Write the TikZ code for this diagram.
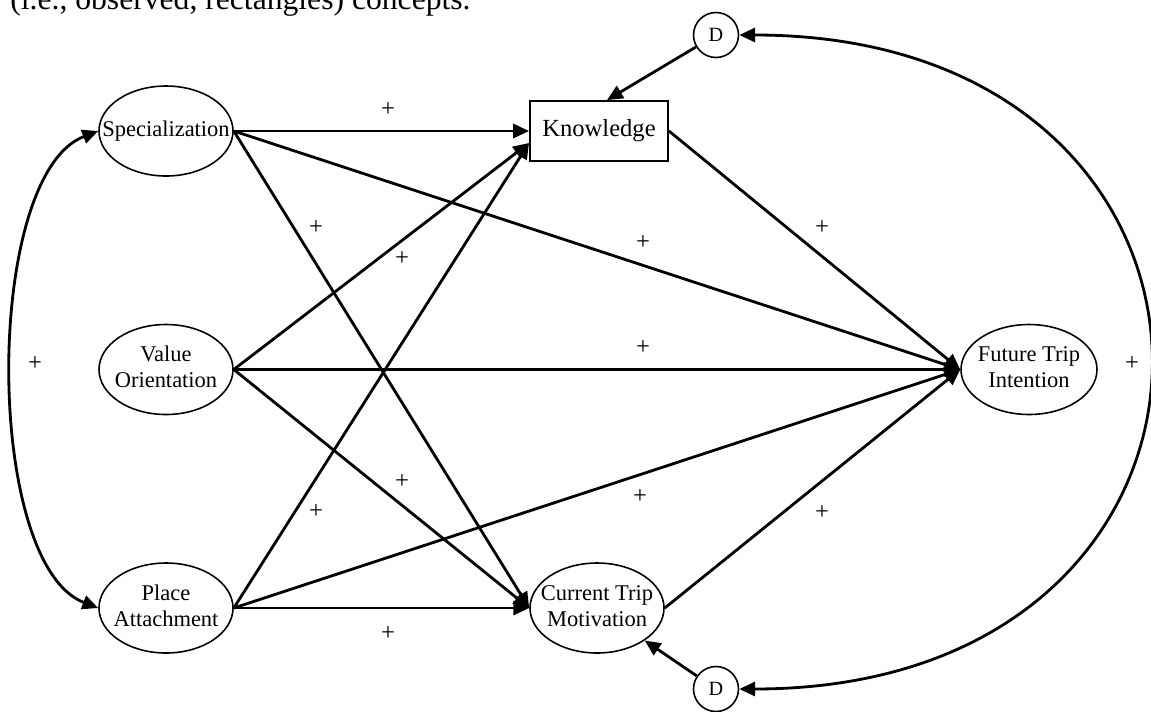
\documentclass[tikz,border=0pt]{standalone}
\usepackage{fontspec}
\setmainfont{Liberation Serif}
\usetikzlibrary{shapes.geometric,arrows.meta}
\newcommand{\nodetext}[1]{\makebox[0pt]{\begin{tabular}{@{}c@{}}#1\end{tabular}}}

\begin{document}
\begin{tikzpicture}[node distance=4.77cm,
    latent/.style={ellipse, draw, line width=0.9pt, minimum width=2.68cm, minimum height=1.8cm, inner sep=0pt, font=\fontsize{12.8}{15}\selectfont},
    observed/.style={rectangle, draw, line width=1.1pt, minimum width=2.76cm, minimum height=1.2cm, inner sep=0pt, font=\fontsize{14}{16}\selectfont},
    disturb/.style={circle, draw, line width=0.9pt, minimum size=0.9cm, inner sep=0pt, font=\fontsize{11.5}{13}\selectfont},
    sign/.style={inner sep=0pt, font=\fontsize{14}{16}\selectfont},
    link/.style={line width=1.6pt, -{Triangle[length=9pt,width=8pt]}},
    covar/.style={line width=1.6pt, {Triangle[length=9pt,width=8pt]}-{Triangle[length=9pt,width=8pt]}}]
    \useasboundingbox (0,0) rectangle (23.02,-14.22);

    % Caption line (cut off at the top)
    \node[anchor=base west, inner sep=0pt, font=\fontsize{18}{21}\selectfont] (caption) at (0.2,-0.18) {(i.e., observed, rectangles) concepts.};

    % Exogenous concepts
    \node[latent] (spec) at (3.32,-2.62) {\nodetext{Specialization}};
    \node[latent, below of=spec] (value) {\nodetext{Value\\Orientation}};
    \node[latent, below of=value] (place) {\nodetext{Place\\Attachment}};

    % Knowledge
    \node[observed, right of=spec, xshift=3.89cm] (know) {Knowledge};

    % Current trip motivation
    \node[latent, right of=place, xshift=3.85cm] (cur) {\nodetext{Current Trip\\Motivation}};

    % Future trip intention
    \node[latent, minimum width=2.72cm, right of=value, xshift=12.49cm] (fut) {\nodetext{Future Trip\\Intention}};

    % Disturbances
    \node[disturb, above of=know, xshift=2.34cm, yshift=-2.85cm] (dtop) {D};
    \node[disturb, below of=cur, xshift=2.38cm, yshift=3.15cm] (dbot) {D};

    % Signs
    \node[sign] (s1) at (7.76,-2.20) {+};
    \node[sign] (s2) at (6.32,-4.56) {+};
    \node[sign] (s3) at (8.04,-5.17) {+};
    \node[sign] (s4) at (12.86,-4.86) {+};
    \node[sign] (s5) at (16.44,-4.56) {+};
    \node[sign] (s6) at (12.86,-6.96) {+};
    \node[sign] (s7) at (0.70,-7.28) {+};
    \node[sign] (s8) at (22.64,-7.28) {+};
    \node[sign] (s9) at (8.04,-9.64) {+};
    \node[sign] (s10) at (6.32,-10.24) {+};
    \node[sign] (s11) at (12.80,-9.94) {+};
    \node[sign] (s12) at (16.44,-10.26) {+};
    \node[sign] (s13) at (7.76,-12.68) {+};

    % Arrows
    \draw[link] (spec.east) -- (know.west);
    \draw[link] (value.east) -- ([yshift=-0.24cm]know.west);
    \draw[link] (place.east) -- ([yshift=-0.24cm]know.west);
    \draw[link] (spec.east) -- (cur.west);
    \draw[link] (value.east) -- (cur.west);
    \draw[link] (place.east) -- (cur.west);
    \draw[link] (spec.east) -- (fut.west);
    \draw[link] (value.east) -- (fut.west);
    \draw[link] (place.east) -- (fut.west);
    \draw[link] (know.east) -- (fut.west);
    \draw[link] (cur.east) -- (fut.west);
    \draw[link] (dtop) -- ([xshift=0.16cm]know.north);
    \draw[link] (dbot) -- (cur);

    % Covariances
    \draw[covar] (spec.west) to[out=201, in=159, looseness=0.66] (place.west);
    \draw[covar] (dtop.east) to[out=0, in=0, looseness=2.14] (dbot.east);

\end{tikzpicture}
\end{document}
